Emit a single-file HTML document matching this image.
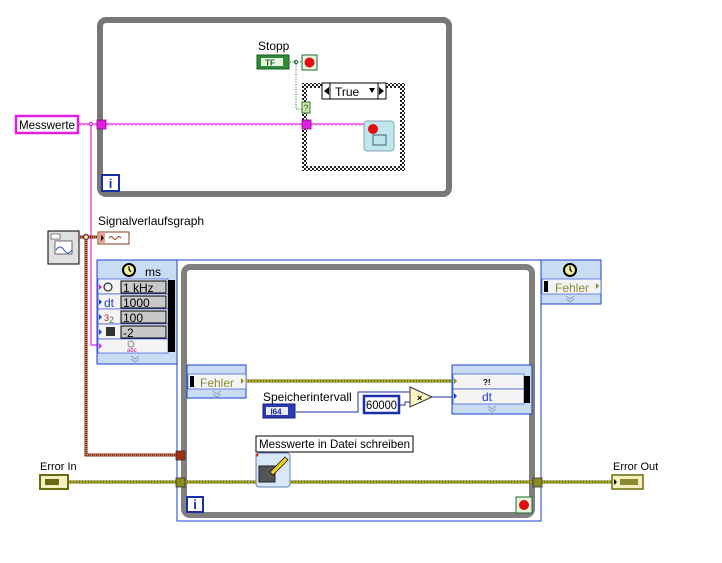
<!DOCTYPE html>
<html><head><meta charset="utf-8"><style>
html,body{margin:0;padding:0;background:#fff;}
svg{display:block;font-family:"Liberation Sans",sans-serif;}
</style></head><body>
<svg width="722" height="563" viewBox="0 0 722 563" xmlns="http://www.w3.org/2000/svg">
<defs>
<pattern id="hatch" width="4" height="4" patternUnits="userSpaceOnUse">
<rect width="4" height="4" fill="#fff"/><rect width="2" height="2" fill="#222"/><rect x="2" y="2" width="2" height="2" fill="#222"/>
</pattern>
</defs>
<!-- top while loop -->
<rect x="100" y="20" width="349" height="174" rx="6" fill="none" stroke="#777" stroke-width="6"/>
<rect x="102" y="175" width="17" height="16" fill="#fff" stroke="#1a2fa8" stroke-width="2"/>
<text x="110.5" y="188" font-size="13" font-weight="bold" fill="#1a2fa8" text-anchor="middle">i</text>

<!-- Stopp -->
<text x="258" y="50" font-size="12" fill="#000">Stopp</text>
<rect x="257" y="55" width="32" height="14" fill="#2f8a3a" stroke="#195a22" stroke-width="1"/>
<rect x="261" y="58" width="22" height="8" fill="#e9f5e0"/>
<text x="270" y="65.5" font-size="8" font-weight="bold" fill="#1b5e20" text-anchor="middle">TF</text>
<path d="M290 62 H301" stroke="#1d6b2a" stroke-dasharray="1,1.5"/>
<circle cx="296" cy="62" r="1.6" fill="none" stroke="#1d6b2a"/>
<rect x="302" y="55" width="15" height="15" fill="#e6f2df" stroke="#1d6b2a"/>
<circle cx="309.5" cy="62.5" r="5" fill="#e01010"/>
<path d="M296 64 V109 H303" stroke="#1d6b2a" fill="none" stroke-dasharray="1,1.5"/>

<!-- case structure -->
<rect x="302" y="83" width="103" height="88" fill="url(#hatch)"/>
<rect x="307" y="88" width="93" height="78" fill="#fff"/>
<rect x="322" y="83" width="64" height="16" fill="#fff" stroke="#000"/>
<path d="M330 83 V99 M378 83 V99" stroke="#000"/>
<path d="M329 87 L324 91 L329 95Z M379 87 L384 91 L379 95Z M369 88 L375 88 L372 93Z" fill="#000"/>
<text x="335" y="96" font-size="12" fill="#000">True</text>
<rect x="302" y="102" width="8" height="11" fill="#cfe8a8" stroke="#2d7a2a"/>
<text x="306" y="111" font-size="9" fill="#2d5a1a" text-anchor="middle">?</text>

<!-- Messwerte -->
<rect x="16" y="116" width="62" height="17" fill="#fff" stroke="#e21ee2" stroke-width="2.5"/>
<text x="19" y="129" font-size="12" fill="#000" textLength="56" lengthAdjust="spacingAndGlyphs">Messwerte</text>
<path d="M79 124 H365" stroke="#e21ee2" stroke-width="1.2"/>
<path d="M79 125.5 H365" stroke="#f6aef6" stroke-width="1" stroke-dasharray="2,2"/>
<rect x="97" y="120" width="9" height="9" fill="#e21ee2" stroke="#7a107a" stroke-width="0.8"/>
<rect x="302" y="120" width="9" height="9" fill="#e21ee2" stroke="#7a107a" stroke-width="0.8"/>
<path d="M91 124 V345 H100" stroke="#e21ee2" stroke-width="1.2" fill="none"/>
<circle cx="91" cy="124" r="1.6" fill="#fff" stroke="#e21ee2"/>
<!-- stop node in case -->
<rect x="364" y="121" width="30" height="30" rx="3" fill="#bfe6ec" stroke="#8aa8b0"/>
<circle cx="373" cy="129" r="5" fill="#e01010"/>
<rect x="373" y="135" width="13" height="10" fill="none" stroke="#406070"/>

<!-- Signalverlaufsgraph -->
<text x="98" y="225" font-size="12" fill="#000">Signalverlaufsgraph</text>
<rect x="48" y="231" width="31" height="33" fill="#e0e0e0" stroke="#000"/>
<rect x="51" y="234" width="9" height="5" fill="#fff" stroke="#333" stroke-width="0.6"/>
<rect x="55" y="241" width="17" height="13" fill="#fff" stroke="#333" stroke-width="0.7"/>
<path d="M56 250 Q60 244 64 250 T72 250" stroke="#2a4ac0" fill="none"/>
<rect x="98" y="232" width="31" height="12" fill="#fff" stroke="#8a3a20"/>
<rect x="99" y="233" width="6" height="10" fill="#e8a090"/>
<path d="M101 235 L104 238 L101 241Z" fill="#000"/>
<path d="M109 238 q2 -3 4 0 t4 0 t4 0" stroke="#8a3a20" fill="none"/>
<path d="M79 237 H97" stroke="#8a2a10" stroke-width="3"/>
<path d="M79 237 H97" stroke="#e8c0a0" stroke-width="1" stroke-dasharray="1,1"/>
<path d="M86 238 V455 H256" stroke="#8a2a10" stroke-width="3" fill="none"/>
<path d="M86 238 V455 H256" stroke="#f0d0c0" stroke-width="1" fill="none" stroke-dasharray="1,1"/>
<circle cx="86" cy="237" r="2.5" fill="#fff" stroke="#8a2a10" stroke-width="1.5"/>

<!-- Timed loop config left node -->
<rect x="97" y="260" width="80" height="104" fill="#c8dcf4" stroke="#1a3fd0"/>
<circle cx="129" cy="270" r="7" fill="#000"/><circle cx="129" cy="270" r="5" fill="#f5f0a0"/>
<path d="M129 266 V270 L131 272" stroke="#000"/>
<text x="145" y="276" font-size="12" fill="#000">ms</text>
<rect x="98" y="279" width="70" height="15" fill="#f4f4f4" stroke="#1a3fd0" stroke-width="0.6"/>
<rect x="98" y="294" width="70" height="15" fill="#f4f4f4" stroke="#1a3fd0" stroke-width="0.6"/>
<rect x="98" y="309" width="70" height="15" fill="#f4f4f4" stroke="#1a3fd0" stroke-width="0.6"/>
<rect x="98" y="324" width="70" height="15" fill="#f4f4f4" stroke="#1a3fd0" stroke-width="0.6"/>
<rect x="98" y="339" width="70" height="14" fill="#f4f4f4" stroke="#1a3fd0" stroke-width="0.6"/>
<rect x="168" y="280" width="7" height="72" fill="#000"/>
<rect x="121" y="281" width="45" height="12" fill="#c8c8c8" stroke="#000"/>
<rect x="121" y="296" width="45" height="12" fill="#c8c8c8" stroke="#000"/>
<rect x="121" y="311" width="45" height="12" fill="#c8c8c8" stroke="#000"/>
<rect x="121" y="326" width="45" height="12" fill="#c8c8c8" stroke="#000"/>
<text x="123" y="292" font-size="12">1 kHz</text>
<text x="123" y="307" font-size="12">1000</text>
<text x="123" y="322" font-size="12">100</text>
<text x="123" y="337" font-size="12">-2</text>
<path d="M99 284 l3 3 l-3 3Z" fill="#e21ee2"/>
<path d="M99 299 l3 3 l-3 3Z M99 314 l3 3 l-3 3Z M99 329 l3 3 l-3 3Z" fill="#1a3fd0"/>
<path d="M99 343 l3 3 l-3 3Z" fill="#e21ee2"/>
<circle cx="108" cy="287" r="4" fill="none" stroke="#000"/>
<text x="104" y="307" font-size="12" fill="#1a3fd0">dt</text>
<text x="104" y="321" font-size="9" fill="#c02020">3</text><text x="109" y="323" font-size="9" fill="#2a8a2a">2</text>
<rect x="106" y="327" width="9" height="9" fill="#333"/>
<circle cx="131" cy="344" r="3" fill="none" stroke="#888"/>
<text x="127" y="352" font-size="6" fill="#c02090">abc</text>
<path d="M131 356 l4 3 l4 -3 M131 359 l4 3 l4 -3" stroke="#8aa0c0" fill="none"/>

<!-- Timed loop main -->
<rect x="177" y="260" width="364" height="261" fill="#fff" stroke="#1a3fd0"/>
<rect x="184" y="267" width="348" height="248" rx="6" fill="none" stroke="#808080" stroke-width="6"/>
<rect x="187" y="497" width="16" height="15" fill="#fff" stroke="#1a2fa8" stroke-width="2"/>
<text x="195" y="509" font-size="13" font-weight="bold" fill="#1a2fa8" text-anchor="middle">i</text>
<rect x="516" y="497" width="16" height="16" fill="#e6f2df" stroke="#1d6b2a"/>
<circle cx="524" cy="505" r="5" fill="#e01010"/>

<!-- right node -->
<rect x="541" y="260" width="60" height="44" fill="#c8dcf4" stroke="#1a3fd0"/>
<circle cx="570" cy="270" r="7" fill="#000"/><circle cx="570" cy="270" r="5" fill="#f5f0a0"/>
<path d="M570 266 V270 L572 272" stroke="#000"/>
<rect x="542" y="279" width="59" height="15" fill="#f4f4f4" stroke="#1a3fd0" stroke-width="0.6"/>
<rect x="544" y="281" width="4" height="11" fill="#000"/>
<text x="555" y="292" font-size="12" fill="#8a8a30">Fehler</text>
<path d="M596 283 l3 3 l-3 3Z" fill="#8a8a30"/>
<path d="M566 296 l4 3 l4 -3 M566 299 l4 3 l4 -3" stroke="#8aa0c0" fill="none"/>

<!-- Fehler node -->
<rect x="187" y="365" width="59" height="33" fill="#c8dcf4" stroke="#1a3fd0"/>
<rect x="188" y="374" width="58" height="15" fill="#f4f4f4" stroke="#1a3fd0" stroke-width="0.6"/>
<rect x="190" y="376" width="4" height="11" fill="#000"/>
<text x="200" y="387" font-size="12" fill="#8a8a30">Fehler</text>
<path d="M241 378 l3 3 l-3 3Z" fill="#8a8a30"/>
<path d="M213 391 l4 3 l4 -3 M213 394 l4 3 l4 -3" stroke="#8aa0c0" fill="none"/>

<!-- error wires -->
<path d="M246 381 H452" stroke="#6a6a10" stroke-width="3"/>
<path d="M246 381 H452" stroke="#f0f020" stroke-width="1" stroke-dasharray="2,1"/>
<path d="M68 482 H612" stroke="#6a6a10" stroke-width="3"/>
<path d="M68 482 H612" stroke="#f0f020" stroke-width="1" stroke-dasharray="2,1"/>
<rect x="176" y="478" width="9" height="9" fill="#8a8a20" stroke="#333" stroke-width="0.8"/>
<rect x="533" y="478" width="9" height="9" fill="#8a8a20" stroke="#333" stroke-width="0.8"/>
<rect x="176" y="451" width="9" height="9" fill="#a03010" stroke="#333" stroke-width="0.8"/>

<!-- Speicherintervall -->
<text x="263" y="401" font-size="12" fill="#000">Speicherintervall</text>
<rect x="263" y="404" width="32" height="14" fill="#2a3ab0" stroke="#1a1a80"/>
<rect x="266" y="407" width="22" height="8" fill="#e8ecff"/>
<text x="276" y="414.5" font-size="8" font-weight="bold" fill="#1a2a90" text-anchor="middle">I64</text>
<path d="M296 412 H358 V392 H411 M400 405 H405 V402 H411 M432 397 H452" stroke="#1a2fa8" fill="none"/>
<rect x="364" y="396" width="35" height="17" fill="#fff" stroke="#1a2fa8" stroke-width="2.5"/>
<text x="366" y="409" font-size="12" textLength="31" lengthAdjust="spacingAndGlyphs">60000</text>
<path d="M410 387 L432 397 L410 407Z" fill="#fbf5c0" stroke="#333"/>
<text x="417" y="401" font-size="9" font-weight="bold">×</text>

<!-- output node -->
<rect x="452" y="365" width="80" height="49" fill="#c8dcf4" stroke="#1a3fd0"/>
<rect x="453" y="374" width="71" height="15" fill="#f4f4f4" stroke="#1a3fd0" stroke-width="0.6"/>
<rect x="453" y="389" width="71" height="15" fill="#f4f4f4" stroke="#1a3fd0" stroke-width="0.6"/>
<rect x="524" y="376" width="6" height="27" fill="#000"/>
<text x="483" y="385" font-size="8" font-weight="bold">?!</text>
<text x="482" y="401" font-size="12" fill="#1a3fd0">dt</text>
<path d="M454 378 l3 3 l-3 3Z" fill="#8a8a30"/><path d="M454 393 l3 3 l-3 3Z" fill="#1a3fd0"/>
<path d="M488 406 l4 3 l4 -3 M488 409 l4 3 l4 -3" stroke="#8aa0c0" fill="none"/>

<!-- Messwerte in Datei schreiben -->
<rect x="256" y="436" width="157" height="16" fill="#fff" stroke="#000"/>
<text x="259" y="448" font-size="12" textLength="151" lengthAdjust="spacingAndGlyphs">Messwerte in Datei schreiben</text>
<rect x="256" y="453" width="34" height="34" rx="3" fill="#d8e8f8" stroke="#6080b0"/>
<rect x="259" y="466" width="16" height="16" fill="#555" stroke="#222"/>
<path d="M270 472 L285 457 L288 460 L273 475Z" fill="#f0d020" stroke="#000" stroke-width="0.7"/>
<circle cx="257" cy="455" r="1.5" fill="#e03030"/>

<!-- Error In/Out -->
<text x="40" y="470" font-size="11">Error In</text>
<rect x="40" y="475" width="28" height="14" fill="#f4f0c0" stroke="#6a6a10" stroke-width="2"/>
<rect x="45" y="479" width="14" height="6" fill="#6a6a10"/>
<text x="613" y="470" font-size="11">Error Out</text>
<rect x="612" y="475" width="31" height="14" fill="#f4f0c0" stroke="#6a6a10" stroke-width="1.5"/>
<path d="M614 479 l3 3 l-3 3Z" fill="#000"/>
<rect x="620" y="479" width="18" height="6" fill="#8a8a30"/>
</svg>
</body></html>
